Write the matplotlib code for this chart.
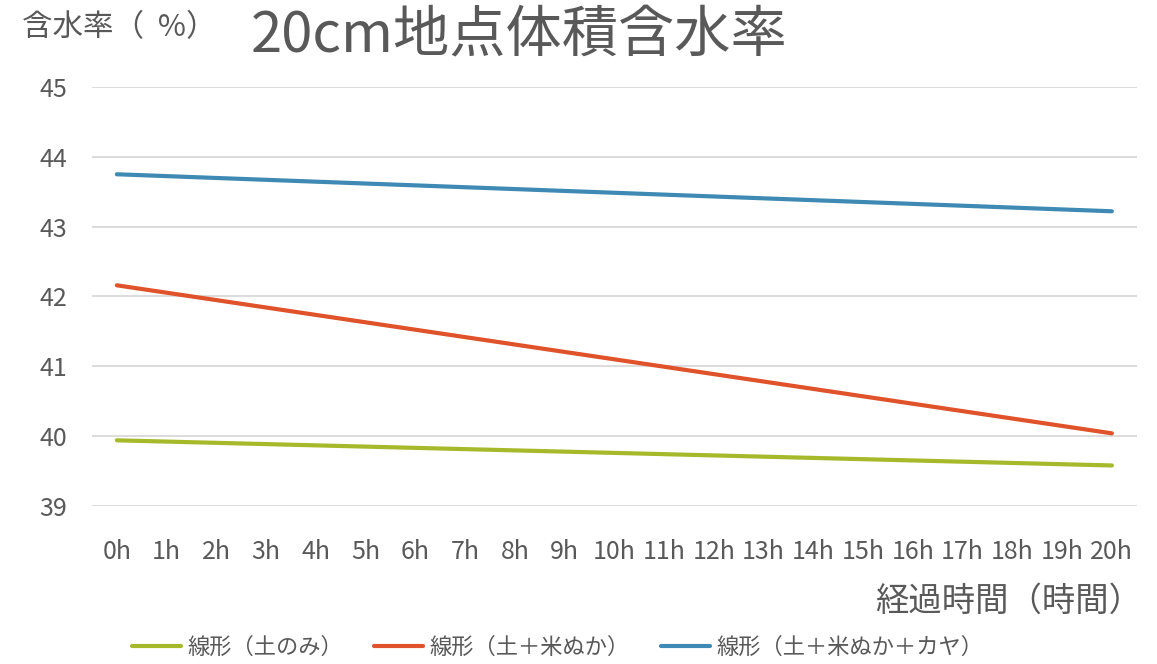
import matplotlib
matplotlib.use("Agg")
import matplotlib.pyplot as plt

plt.rcParams['font.family'] = ['Noto Sans CJK JP', 'DejaVu Sans']

hours = [f"{h}h" for h in range(21)]
trend_x = [0, 20]
soil_only = [39.94, 39.58]
soil_bran = [42.16, 40.04]
soil_bran_kaya = [43.75, 43.22]
series_labels = ["線形（土のみ）", "線形（土＋米ぬか）", "線形（土＋米ぬか＋カヤ）"]
colors = ["#A5B92A", "#E0522A", "#3E8AB4"]
yticks = [39, 40, 41, 42, 43, 44, 45]

text_col = "#595959"
fig = plt.figure(figsize=(11.57, 6.64), dpi=100)
ax = fig.add_axes([0.0795, 0.238, 0.903, 0.631])

for vals, lab, c in zip([soil_only, soil_bran, soil_bran_kaya], series_labels, colors):
    ax.plot(trend_x, vals, color=c, lw=3, solid_capstyle='round', label=lab)

ax.set_xlim(-0.5, 20.5)
ax.set_ylim(39, 45)
ax.set_xticks(range(21))
ax.set_xticklabels(hours)
ax.set_yticks(yticks)
ax.grid(axis='y', color='#D9D9D9', lw=1.3)
ax.set_axisbelow(True)
for s in ax.spines.values():
    s.set_visible(False)
ax.tick_params(axis='both', length=0, labelsize=18, colors=text_col)
ax.tick_params(axis='x', pad=24)
ax.tick_params(axis='y', pad=18)

fig.text(0.217, 0.946, "20cm地点体積含水率", fontsize=40.5, color=text_col, ha='left', va='center')
fig.text(0.019, 0.958, "含水率（  %）", fontsize=22, color=text_col, ha='left', va='center')
fig.text(0.987, 0.095, "経過時間（時間）", fontsize=24, color=text_col, ha='right', va='center')

leg = fig.legend(loc='center', bbox_to_anchor=(0.482, 0.025), ncol=3, frameon=False,
                 fontsize=16, handlelength=2.2, columnspacing=1.4, handletextpad=0.3)
for t in leg.get_texts():
    t.set_color(text_col)

fig.savefig("out.png", dpi=100, facecolor='white')
